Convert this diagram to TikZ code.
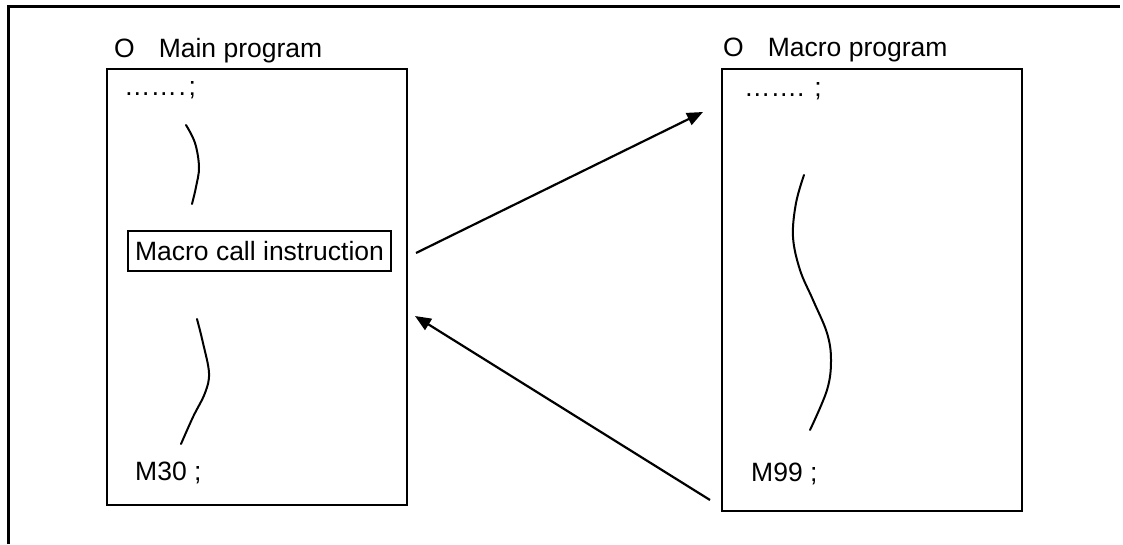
\documentclass[tikz,border=0pt]{standalone}
\usepackage{fontspec}
\setmainfont{Liberation Sans}
\usetikzlibrary{arrows.meta}
\begin{document}
\begin{tikzpicture}[x=1pt,y=-1pt,
  txt/.style={anchor=base west,inner sep=0pt,font=\fontsize{26.5}{30}\selectfont},
  prog/.style={draw,line width=1.9pt},
  wave/.style={line width=2pt,line cap=round},
  flow/.style={line width=2.2pt,-{Triangle[length=16pt,width=13pt]}}]
\useasboundingbox (0,0) rectangle (1123,544);
% outer frame (top and left only)
\draw[line width=3pt] (8,544) -- (8,6) -- (1120,6);
% boxes
\draw[prog] (107,69) rectangle (407,505);
\draw[prog,line width=2.7pt] (722,69) rectangle (1022,511);
% titles
\node[txt] (t1) at (114,57) {O\hspace{24pt}Main program};
\node[txt] (t2) at (723,56) {O\hspace{24pt}Macro program};
% contents
\node[txt] (d1) at (124,95) {……\hspace{1.5pt}.\hspace{2.5pt};};
\node[txt] (d2) at (744,96) {……. ;};
\node[draw,line width=1.8pt,minimum width=263pt,minimum height=40pt,inner sep=0pt,
  font=\fontsize{26.5}{30}\selectfont] (call) at (259.5,251) {Macro call instruction};
\node[txt] (m30) at (135,480) {M30 ;};
\node[txt] (m99) at (751,481) {M99 ;};
% wavy lines
\draw[wave] plot[smooth,tension=0.6] coordinates {(186,125) (195,143) (199,167) (196,187) (192,204)};
\draw[wave] plot[smooth,tension=0.6] coordinates {(197,319) (203,343) (209,373) (205,393) (193,417) (181,444)};
\draw[wave] plot[smooth,tension=0.6] coordinates {(804,175) (796,203) (793,237) (800,270) (813,300) (827,333) (831,360) (827,390) (810,430)};
% arrows
\coordinate (a1s) at (416,253);
\coordinate (a1e) at (703,112);
\coordinate (a2s) at (710,500);
\coordinate (a2e) at (415,316);
\draw[flow] (a1s) -- (a1e);
\draw[flow] (a2s) -- (a2e);
\end{tikzpicture}
\end{document}
